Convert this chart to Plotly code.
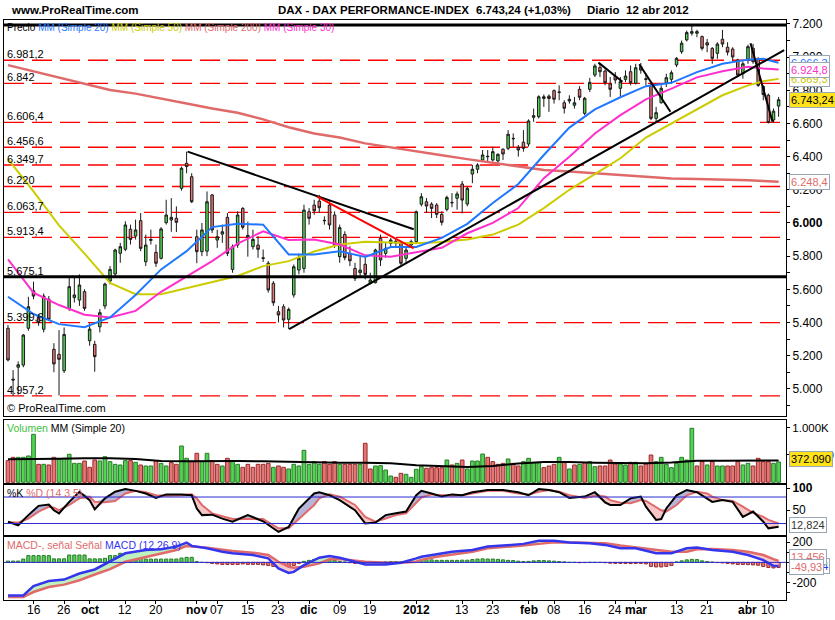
import numpy as np
import pandas as pd
import plotly.graph_objects as go

W, H = 835, 620
FONT = "Liberation Sans, Arial, sans-serif"

# ---------------- data ----------------
# DAX daily bars, 9 sep 2011 -> 12 apr 2012 (exchange shut 26 dec, 6 + 9 apr)
holidays = ["2011-12-26", "2012-04-06", "2012-04-09"]
dates = [d for d in pd.bdate_range("2011-09-09", "2012-04-12")
         if d.strftime("%Y-%m-%d") not in holidays]
bars = list(range(len(dates)))

opens = [5365,5058,5130,5143,5365,5591,5435,5359,5540,5238,
         5208,5109,5485,5550,5535,5586,5290,5268,5374,5499,
         5650,5692,5817,5841,5962,5921,6014,5766,5895,5823,
         5787,6002,6018,6028,6209,6360,6279,5917,5827,5830,
         6169,5897,5933,6034,5720,5867,6088,5915,5857,5867,
         5790,5757,5636,5465,5495,5419,5566,5716,5726,6068,
         6108,6132,6016,6108,6048,5797,5931,5817,5726,5700,
         5751,5636,5640,5907,5817,5877,5880,5877,5787,5867,
         5887,6113,6128,6114,6108,6052,6082,6124,6149,6235,
         6114,6295,6324,6380,6402,6380,6374,6445,6450,6510,
         6455,6487,6476,6637,6641,6751,6765,6798,6790,6725,
         6746,6710,6806,6661,6806,6892,6938,6916,6838,6884,
         6812,6866,6912,6842,6942,6870,6832,6631,6725,6846,
         6866,6953,7033,7104,7144,7144,7124,7087,7053,7023,
         7108,7060,7049,6983,6900,6987,7053,6990,6823,6771,
         6621,6705]
highs = [5385,5113,5165,5330,5555,5646,5450,5575,5560,5275,
         5354,5370,5676,5680,5690,5600,5395,5290,5480,5640,
         5740,5845,5880,6010,5990,6020,6060,5930,5960,5870,
         5975,6140,6150,6100,6340,6430,6300,5960,6000,6190,
         6175,5960,5990,6060,5870,6070,6095,6008,5960,5920,
         5840,5770,5650,5500,5510,5490,5750,5815,6110,6090,
         6140,6169,6040,6130,6070,5990,5950,5860,5760,5800,
         5790,5700,5845,5930,5880,5910,5905,5890,5860,5900,
         6075,6180,6150,6125,6120,6070,6165,6180,6190,6253,
         6220,6350,6360,6440,6440,6460,6420,6450,6560,6540,
         6470,6560,6625,6690,6770,6775,6775,6805,6830,6740,
         6770,6760,6825,6760,6875,6960,6960,6925,6880,6910,
         6880,6920,6950,6960,6965,6900,6840,6700,6830,6900,
         6920,7000,7100,7160,7194.3,7165,7130,7110,7060,7090,
         7164,7090,7060,6990,6975,7075,7080,7000,6830,6780,
         6690,6760]
lows = [5165,4957.2,4965,5130,5350,5540,5380,5340,5410,5100,
        4960,5095,5470,5520,5500,5470,5260,5103,5340,5480,
        5630,5680,5760,5830,5870,5900,5830,5740,5870,5735,
        5780,5990,5947,5945,6195,6300,6120,5757,5800,5800,
        5940,5850,5880,5800,5700,5850,5960,5797,5840,5790,
        5765,5580,5500,5400,5370,5360,5550,5690,5700,5990,
        6050,6060,5990,5960,5850,5760,5775,5740,5650,5680,
        5660,5630,5635,5740,5790,5850,5860,5745,5760,5850,
        5880,6100,6060,6030,6030,5985,6070,6095,6080,6058,
        6100,6240,6300,6370,6370,6370,6350,6380,6440,6460,
        6400,6430,6460,6610,6630,6700,6670,6720,6740,6660,
        6720,6690,6740,6650,6790,6880,6880,6830,6760,6840,
        6760,6850,6830,6835,6900,6830,6620,6606.4,6720,6820,
        6840,6940,7020,7095,7130,7120,7040,7030,6960,6990,
        7060,7010,6980,6880,6870,6960,6960,6820,6740,6600,
        6605,6640]
closes = [5174,5053,5145,5324,5495,5559,5400,5559,5419,5150,
          5178,5328,5616,5566,5626,5485,5360,5194,5459,5632,
          5720,5837,5857,5988,5901,5958,5847,5867,5900,5757,
          5964,6048,6034,6004,6330,6340,6128,5827,5958,6128,
          5958,5917,5947,5817,5857,6048,5974,5925,5901,5841,
          5787,5596,5519,5445,5415,5479,5736,5787,6078,6028,
          6074,6092,6014,5988,5867,5972,5791,5772,5666,5716,
          5690,5656,5837,5777,5847,5897,5890,5757,5837,5887,
          6068,6158,6102,6088,6052,6004,6154,6122,6175,6138,
          6209,6324,6350,6410,6400,6430,6414,6416,6535,6508,
          6440,6450,6615,6647,6761,6761,6751,6746,6788,6692,
          6736,6725,6758,6752,6848,6947,6912,6846,6806,6862,
          6852,6886,6846,6936,6922,6866,6631,6665,6812,6876,
          6906,6993,7084,7148,7154,7154,7053,7073,6993,7079,
          7079,7030,7001,6892,6960,7063,6973,6830,6775,6606,
          6674,6743.24]

# moving averages, read every 5 bars
ma_idx = [0,5,10,15,20,25,30,35,40,45,50,55,60,65,70,75,80,85,90,95,
          100,105,110,115,120,125,130,135,140,145,148,151]
ma20 = [5555,5451,5390,5372,5430,5566,5720,5830,5975,5995,5990,5810,5810,5830,5795,5855,
        5855,5910,5995,6120,6235,6410,6575,6685,6758,6825,6845,6910,6960,6985,6990,6966]
ma30 = [5780,5580,5505,5447,5430,5470,5585,5680,5770,5875,5950,5897,5900,5870,5805,5797,
        5822,5850,5938,6000,6090,6270,6400,6540,6650,6745,6810,6878,6915,6942,6932,6925]
ma50 = [6385,6190,5985,5815,5638,5570,5570,5606,5640,5680,5740,5770,5828,5870,5887,5884,
        5878,5885,5900,5930,5990,6090,6200,6295,6390,6515,6600,6690,6770,6830,6855,6869]
ma200 = [6952,6915,6874,6840,6802,6780,6752,6720,6690,6665,6625,6577,6540,6515,6480,6455,
         6430,6408,6385,6362,6340,6320,6310,6299,6288,6276,6268,6265,6263,6258,6253,6248.4]

# horizontal levels
dashed_levels = [6981.2, 6842, 6606.4, 6456.6, 6349.7, 6220, 6063.7, 5913.4, 5399.6, 4957.2]
dashed_labels = ["6.981,2", "6.842", "6.606,4", "6.456,6", "6.349,7", "6.220",
                 "6.063,7", "5.913,4", "5.399,6", "4.957,2"]
solid_levels = [7194.3, 5675.1]
solid_labels = ["", "5.675,1"]

# trend lines (bar index, price)
trend_black = [([35.2, 79.5], [6430, 5962]),
               ([55.1, 152.1], [5360, 7043]),
               ([115.7, 120.4], [6967, 6852]),
               ([123.7, 129.8], [6957, 6671]),
               ([145.5, 149.8], [7084, 6611])]
trend_red = ([60.6, 79.5], [6159, 5847])

# volume (thousands) and bar colour (1 = green)
vol_k = [396,457,457,457,482,879,329,329,317,457,
         421,439,513,347,347,390,274,408,390,469,
         378,329,317,396,396,366,317,299,299,390,
         347,299,360,329,665,439,378,531,378,531,
         396,329,299,439,378,329,274,329,274,329,
         329,347,274,299,274,244,329,299,586,329,
         378,329,378,329,378,329,329,329,329,329,
         714,244,299,305,225,115,91,164,146,91,
         238,286,256,268,268,268,408,317,347,408,
         244,390,390,518,457,378,329,347,427,347,
         299,378,439,360,360,268,299,329,457,378,
         244,317,329,360,378,286,299,299,408,335,
         335,317,366,366,299,335,500,378,457,329,
         268,347,457,408,989,299,378,317,378,299,
         299,299,299,378,317,347,299,439,378,378,
         347,372.09]
vol_up = [0,0,1,1,1,1,0,1,0,0, 1,1,1,1,1,0,0,0,1,1, 1,1,1,1,0,1,0,1,1,0,
          1,1,0,0,1,1,0,0,1,1, 0,0,1,0,1,1,0,0,0,0, 0,0,1,0,0,1,1,1,1,1,
          1,1,0,0,0,1,0,0,0,1, 0,0,1,1,1,1,0,0,1,1, 1,1,0,0,0,0,1,0,1,0,
          1,1,1,1,0,0,0,0,1,0, 0,1,1,1,1,0,0,0,1,0, 1,0,1,0,1,1,0,0,0,0,
          1,1,0,1,0,0,0,1,1,1, 1,1,1,1,1,0,0,1,0,1, 1,0,0,0,1,1,0,0,0,0,
          1,1]
volma_idx = [0,5,10,15,20,25,30,35,40,45,50,55,60,65,70,75,80,85,90,95,
             100,105,110,115,120,125,130,135,140,145,151]
volma_k = [421,421,430,440,440,425,390,385,390,390,384,372,365,360,360,350,
           310,299,278,300,345,370,372,360,350,350,362,396,396,400,400]

# stochastic %K / %D (14 3 5)
stoch_idx = [0,2,4,6,8,9,10,12,14,16,17,19,21,23,25,27,29,31,34,36,
             37,38,40,42,44,47,50,52,53,55,57,60,61,63,65,68,70,72,74,76,
             78,80,81,83,85,87,89,91,94,97,100,102,104,106,108,110,113,115,117,118,
             120,122,124,125,127,128,129,131,133,135,137,138,140,142,144,146,148,149,151]
stoch_k = [24,16,39,60,63,50,43,69,92,73,52,77,92,98,94,88,78,86,86,84,
           54,39,40,31,24,39,25,9,1,12,54,88,91,84,73,50,20,22,39,43,
           47,84,94,88,81,86,84,91,96,96,91,84,98,96,91,78,81,91,68,62,
           62,77,81,58,28,30,54,84,96,91,77,69,73,69,35,47,24,9,12.824]
stoch_d = [22,22,31,47,58,56,50,62,77,81,69,68,71,88,94,91,84,83,84,86,
           77,62,43,37,30,30,30,16,9,9,31,62,77,86,81,62,35,24,31,39,
           43,66,79,86,84,83,84,88,94,94,88,86,92,96,92,84,78,83,81,73,
           67,66,73,71,58,50,47,62,84,92,88,81,73,71,58,44,35,28,20]

# MACD (12 26 9)
macd_idx = [0,3,5,8,11,14,17,20,23,27,30,33,35,36,39,42,44,48,51,53,
            55,56,58,61,63,65,68,70,74,77,80,81,84,87,91,94,97,101,104,107,
            110,114,117,120,123,127,130,133,135,138,142,145,148,150,151]
macd = [-327,-327,-234,-184,-170,-110,-70,6,90,123,130,156,196,163,140,106,90,73,40,-60,
        -104,-94,-27,46,63,46,6,-20,-20,-3,40,56,80,106,123,156,166,183,213,213,
        196,190,173,140,140,90,90,140,146,123,106,73,23,-34,-36.47]
signal = [-343,-343,-293,-244,-220,-177,-120,-67,6,50,90,123,163,156,146,123,113,96,73,6,
          -44,-54,-44,-10,30,33,13,6,-3,-3,6,25,56,80,106,140,150,166,183,200,
          196,193,190,166,150,123,106,106,130,133,123,106,73,33,13.46]
hist = [13,13,13,33,67,67,67,67,67,35, 35,35,73,73,73,73,35,35,35,40,
        67,67,90,90,90,90,85,33,33,33, 33,33,33,33,43,50,50,7,0,-3,
        -10,-15,-20,-20,-20,-20,-15,-20,-20,-20, -25,-30,-40,-50,-50,-45,-30,-10,10,20,
        30,35,35,30,20,10,5,-3,-10,-10, -8,-8,-5,-3,5,8,8,5,8,12,
        25,30,30,25,20,20,20,20,20,22, 22,28,33,35,33,33,30,25,20,18,
        12,8,10,15,18,18,15,12,8,5, 0,0,-3,-2,0,0,0,-3,-8,-10,
        -10,-10,-12,-10,-10,-15,-40,-45,-45,-40, -30,5,15,25,30,28,15,8,3,-2,
        -5,-10,-15,-20,-20,-22,-25,-28,-40,-50, -55,-49.93]

tick_dates = ["2011-09-16","2011-09-26","2011-10-03","2011-10-12","2011-10-20","2011-11-01",
              "2011-11-07","2011-11-15","2011-11-23","2011-12-01","2011-12-09","2011-12-19",
              "2012-01-02","2012-01-13","2012-01-23","2012-02-01","2012-02-08","2012-02-16",
              "2012-02-24","2012-03-01","2012-03-13","2012-03-21","2012-04-02","2012-04-10"]
tick_text = ["16","26","<b>oct</b>","12","20","<b>nov</b>","07","15","23","<b>dic</b>","09","19",
             "<b>2012</b>","13","23","<b>feb</b>","08","16","24","<b>mar</b>","13","21","<b>abr</b>","10"]
price_ticks = [5000,5200,5400,5600,5800,6000,6200,6400,6600,6800,7000,7200]
price_ticktext = ["5.000","5.200","5.400","5.600","5.800","<b>6.000</b>","6.200","6.400",
                  "6.600","6.800","7.000","7.200"]

# ---------------- colours ----------------
GREEN, RED = "#52d452", "#e57676"
BLUE, YELLOW, SALMON, MAGENTA = "#1f78ff", "#cccc00", "#e06a6a", "#ff2fcc"

pos = {d.strftime("%Y-%m-%d"): i for i, d in enumerate(dates)}
tick_idx = [pos[d] for d in tick_dates]

def py(p):
    return 1 - p / H

X0, X1 = 4, 786
xdom = [X0 / W, X1 / W]
xr = [-0.78, 152.45]

fig = go.Figure()

# main price panel
fig.add_trace(go.Scatter(x=ma_idx, y=ma200, mode="lines", line=dict(color=SALMON, width=2.5),
                         xaxis="x", yaxis="y", hoverinfo="skip"))
fig.add_trace(go.Candlestick(x=bars, open=opens, high=highs, low=lows, close=closes,
                             increasing=dict(fillcolor=GREEN, line=dict(color="#1a1a1a", width=1)),
                             decreasing=dict(fillcolor=RED, line=dict(color="#1a1a1a", width=1)),
                             whiskerwidth=0, xaxis="x", yaxis="y"))
for ys, col in [(ma50, YELLOW), (ma30, MAGENTA), (ma20, BLUE)]:
    fig.add_trace(go.Scatter(x=ma_idx, y=ys, mode="lines", line=dict(color=col, width=2),
                             xaxis="x", yaxis="y", hoverinfo="skip"))
for tx, ty in trend_black:
    fig.add_trace(go.Scatter(x=tx, y=ty, mode="lines", line=dict(color="black", width=2),
                             xaxis="x", yaxis="y", hoverinfo="skip"))
fig.add_trace(go.Scatter(x=trend_red[0], y=trend_red[1], mode="lines",
                         line=dict(color="#ff0000", width=2), xaxis="x", yaxis="y", hoverinfo="skip"))

# volume
vol = np.array(vol_k) * 1000
fig.add_trace(go.Bar(x=bars, y=vol, width=0.72,
                     marker=dict(color=[GREEN if u else RED for u in vol_up],
                                 line=dict(color=["#2a7a2a" if u else "#9a2a2a" for u in vol_up], width=1)),
                     xaxis="x2", yaxis="y2"))
fig.add_trace(go.Scatter(x=volma_idx, y=np.array(volma_k) * 1000, mode="lines",
                         line=dict(color="black", width=2), xaxis="x2", yaxis="y2"))

# stochastic with coloured fills between %K and %D
k = np.array(stoch_k, dtype=float)
d = np.array(stoch_d, dtype=float)
fig.add_trace(go.Scatter(x=stoch_idx, y=d, mode="lines", line=dict(width=0), xaxis="x3", yaxis="y3"))
fig.add_trace(go.Scatter(x=stoch_idx, y=np.maximum(k, d), mode="lines", line=dict(width=0),
                         fill="tonexty", fillcolor="#b6b6da", xaxis="x3", yaxis="y3"))
fig.add_trace(go.Scatter(x=stoch_idx, y=d, mode="lines", line=dict(width=0), xaxis="x3", yaxis="y3"))
fig.add_trace(go.Scatter(x=stoch_idx, y=np.minimum(k, d), mode="lines", line=dict(width=0),
                         fill="tonexty", fillcolor="#f6c6c6", xaxis="x3", yaxis="y3"))
fig.add_trace(go.Scatter(x=stoch_idx, y=d, mode="lines", line=dict(color=SALMON, width=2),
                         xaxis="x3", yaxis="y3"))
fig.add_trace(go.Scatter(x=stoch_idx, y=k, mode="lines", line=dict(color="black", width=2),
                         xaxis="x3", yaxis="y3"))

# MACD
hv = np.array(hist, dtype=float)
fig.add_trace(go.Bar(x=bars, y=hv, width=0.62,
                     marker=dict(color=[GREEN if v >= 0 else RED for v in hv],
                                 line=dict(color=["#2a7a2a" if v >= 0 else "#9a2a2a" for v in hv], width=1)),
                     xaxis="x4", yaxis="y4"))
m = np.array(macd, dtype=float)
s = np.array(signal, dtype=float)
fig.add_trace(go.Scatter(x=macd_idx, y=s, mode="lines", line=dict(width=0), xaxis="x4", yaxis="y4"))
fig.add_trace(go.Scatter(x=macd_idx, y=np.maximum(m, s), mode="lines", line=dict(width=0),
                         fill="tonexty", fillcolor="#bff0bf", xaxis="x4", yaxis="y4"))
fig.add_trace(go.Scatter(x=macd_idx, y=s, mode="lines", line=dict(width=0), xaxis="x4", yaxis="y4"))
fig.add_trace(go.Scatter(x=macd_idx, y=np.minimum(m, s), mode="lines", line=dict(width=0),
                         fill="tonexty", fillcolor="#f6caca", xaxis="x4", yaxis="y4"))
fig.add_trace(go.Scatter(x=macd_idx, y=s, mode="lines", line=dict(color=SALMON, width=2.5),
                         xaxis="x4", yaxis="y4"))
fig.add_trace(go.Scatter(x=macd_idx, y=m, mode="lines", line=dict(color="#3535ee", width=2.5),
                         xaxis="x4", yaxis="y4"))

# ---------------- shapes ----------------
shapes = []
for lv in dashed_levels:
    shapes.append(dict(type="line", xref="paper", yref="y", x0=xdom[0], x1=xdom[1], y0=lv, y1=lv,
                       layer="below", line=dict(color="#ff0000", width=1.3, dash="20px,8px")))
for lv in solid_levels:
    shapes.append(dict(type="line", xref="paper", yref="y", x0=xdom[0], x1=xdom[1], y0=lv, y1=lv,
                       line=dict(color="black", width=3)))
for lv in (20, 80):
    shapes.append(dict(type="line", xref="paper", yref="y3", x0=xdom[0], x1=xdom[1], y0=lv, y1=lv,
                       line=dict(color="#2a2ad0", width=1)))
shapes.append(dict(type="line", xref="paper", yref="y4", x0=xdom[0], x1=xdom[1], y0=0, y1=0,
                   line=dict(color="#2a2ad0", width=1)))

# ---------------- annotations ----------------
ann = []

def text(x, y, t, yref="paper", size=11, color="black", yanchor="middle", **kw):
    ann.append(dict(x=x / W, y=y, xref="paper", yref=yref, text=t, showarrow=False,
                    xanchor="left", yanchor=yanchor,
                    font=dict(size=size, color=color, family=FONT), **kw))

def box(y, yref, t, color, bg="white", yshift=0):
    ann.append(dict(x=789 / W, y=y, xref="paper", yref=yref, text=t, showarrow=False,
                    xanchor="left", yanchor="middle", yshift=yshift,
                    font=dict(size=11, color=color, family=FONT),
                    bgcolor=bg, bordercolor="#98a6b6", borderwidth=1, borderpad=1))

text(9, py(10), "<b>www.ProRealTime.com</b>", size=11.5)
text(276, py(10), "<b>DAX - DAX PERFORMANCE-INDEX</b>", size=11.5)
text(474, py(10), "<b>6.743,24 (+1,03%)</b>", size=11.5)
text(585, py(10), "<b>Diario  12 abr 2012</b>", size=11.5)

text(5, py(27), "Precio <span style='color:%s'>MM (Simple 20)</span> "
     "<span style='color:%s'>MM (Simple 50)</span> <span style='color:%s'>MM (Simple 200)</span> "
     "<span style='color:%s'>MM (Simple 30)</span>" % (BLUE, YELLOW, SALMON, MAGENTA), size=10)
text(5, py(428), "<span style='color:#3cc03c'>Volumen</span> MM (Simple 20)", size=10.5)
text(5, py(493), "%K <span style='color:#e06a6a'>%D (14 3 5)</span>", size=10.5)
text(5, py(545), "<span style='color:#e06a6a'>MACD-, señal Señal</span> "
     "<span style='color:#3535ee'>MACD (12 26 9)</span>", size=10.5)
text(5, py(408), "© ProRealTime.com", size=11)

for lv, lb in zip(dashed_levels + solid_levels, dashed_labels + solid_labels):
    if lb:
        text(5, lv, lb, yref="y", size=11, yanchor="bottom", yshift=-2)

# date labels under the MACD panel
for ti, tt in zip(tick_idx, tick_text):
    ann.append(dict(x=ti, y=py(610), xref="x4", yref="paper", text=tt, showarrow=False,
                    xanchor="center", yanchor="middle",
                    font=dict(size=12, color="black", family=FONT)))

# value boxes on the right
box(6966.3, "y", "6.966,3", BLUE)
box(6869.3, "y", "6.869,3", "#c8c800")
box(6924.8, "y", "6.924,8", MAGENTA)
box(6743.24, "y", "6.743,24", "black", bg="#ffe21a")
box(6248.4, "y", "6.248,4", SALMON)
box(372090, "y2", "372.090", "black", bg="#ffe21a", yshift=3)
box(12.824, "y3", "12,824", "#333333", yshift=2)
box(-36.47, "y4", "-36,474", "#3535ee")
box(13.46, "y4", "13,456", SALMON, yshift=4)
box(-49.93, "y4", "-49,93", SALMON)

# ---------------- axes ----------------
def xax(anchor, last=False):
    a = dict(domain=xdom, range=xr, anchor=anchor, showline=True, mirror=True, linecolor="black",
             linewidth=1, showgrid=False, zeroline=False, showticklabels=False, ticks="",
             rangeslider=dict(visible=False), fixedrange=True)
    if last:
        a.update(tickmode="array", tickvals=tick_idx, ticks="outside", ticklen=3, tickcolor="black")
    return a

def yax(anchor, dom, rng, tv, tt, size=12, minor=None):
    a = dict(domain=[py(dom[1]), py(dom[0])], range=rng, anchor=anchor, side="right",
             showline=True, mirror=True, linecolor="black", linewidth=1, showgrid=False,
             zeroline=False, tickmode="array", tickvals=tv, ticktext=tt, ticks="outside",
             ticklen=3, tickcolor="black", tickfont=dict(size=size, color="black", family=FONT),
             fixedrange=True)
    if minor is not None:
        a["minor"] = dict(tickmode="array", tickvals=minor, ticks="outside", ticklen=3,
                          tickcolor="black")
    return a

fig.update_layout(
    width=W, height=H, template="none",
    margin=dict(l=0, r=0, t=0, b=0),
    paper_bgcolor="white", plot_bgcolor="white",
    showlegend=False, bargap=0.2,
    font=dict(family=FONT, color="black"),
    xaxis=xax("y"), xaxis2=dict(xax("y2"), matches="x"),
    xaxis3=dict(xax("y3"), matches="x"), xaxis4=dict(xax("y4", last=True), matches="x"),
    yaxis=yax("x", (19.5, 416), [4836, 7227], price_ticks, price_ticktext,
              minor=list(range(4900, 7300, 100))),
    yaxis2=yax("x2", (420, 483), [-13000, 1141000], [500000, 1000000], ["500.000", "1.000K"],
               size=11.5),
    yaxis3=yax("x3", (485, 534.5), [-5, 107.3], [50, 100], ["50", "<b>100</b>"]),
    yaxis4=yax("x4", (536.5, 599.5), [-367, 256], [-300, -200, -100, 0, 100, 200],
               ["", "-200", "", "", "", "200"]),
    shapes=shapes, annotations=ann,
)

# the page's default body margin would push the 835x620 figure off the window
fig.write_html("out.html", config={"displayModeBar": False},
               post_script="document.body.style.margin='0';document.body.style.overflow='hidden';")
